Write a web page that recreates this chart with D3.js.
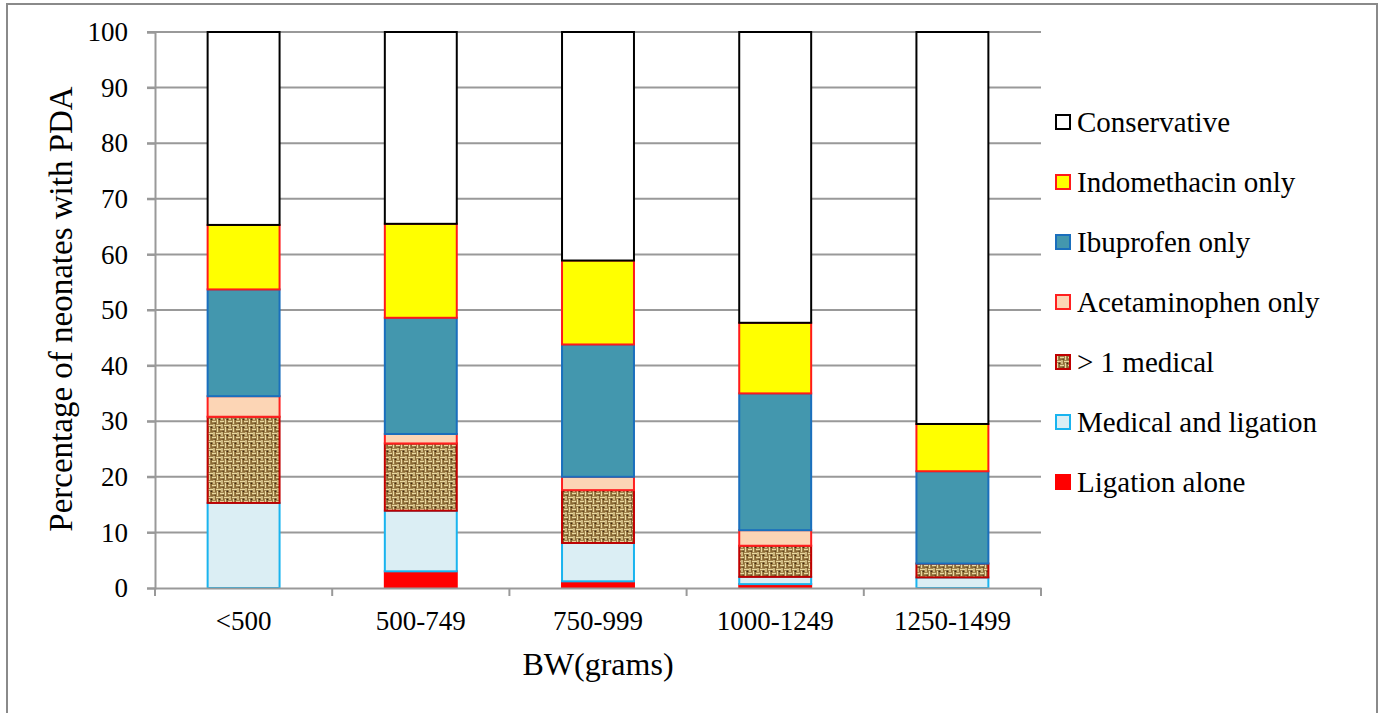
<!DOCTYPE html>
<html>
<head>
<meta charset="utf-8">
<script src="https://cdn.jsdelivr.net/npm/d3@7"></script>
<style>
html,body{margin:0;padding:0;background:#fff;}
svg{display:block;}
text{font-family:"Liberation Serif","Times New Roman",serif;fill:#000;}
</style>
</head>
<body>
<svg id="chart" width="1380" height="713"></svg>
<script>
const categories = ["<500", "500-749", "750-999", "1000-1249", "1250-1499"];
const seriesNames = ["Ligation alone", "Medical and ligation", "> 1 medical", "Acetaminophen only", "Ibuprofen only", "Indomethacin only", "Conservative"];
const ligationAlone      = [0,    3.0,  1.2,  0.7,  0];
const medicalLigation    = [15.3, 10.9, 6.9,  1.3,  1.9];
const moreThanOneMedical = [15.5, 12.1, 9.5,  5.6,  2.5];
const acetaminophenOnly  = [3.7,  1.7,  2.4,  2.8,  0];
const ibuprofenOnly      = [19.2, 20.9, 23.8, 24.6, 16.6];
const indomethacinOnly   = [11.6, 16.9, 15.1, 12.7, 8.5];
const conservative       = [34.7, 34.5, 41.1, 52.3, 70.5];
const yTicks = [0,10,20,30,40,50,60,70,80,90,100];
const xTitle = "BW(grams)";
const yTitle = "Percentage of neonates with PDA";

(function(){
const seriesValues = [ligationAlone, medicalLigation, moreThanOneMedical, acetaminophenOnly, ibuprofenOnly, indomethacinOnly, conservative];
const fills = ["#ff0000", "#dbeef4", "url(#burlap)", "#fcd5b5", "#4397ae", "#ffff00", "#ffffff"];
const strokes = ["#ff0000", "#19b4ef", "#c00000", "#ff2020", "#1a6fbd", "#ff1a1a", "#000000"];

const svg = d3.select("#chart");
const defs = svg.append("defs");
const pat = defs.append("pattern").attr("id","burlap").attr("patternUnits","userSpaceOnUse")
  .attr("width",8).attr("height",8);
pat.append("rect").attr("width",8).attr("height",8).attr("fill","#8a6934");
pat.append("path").attr("d","M0,1.5H5 M4,5.5H8 M1.5,3V8 M6,0V4").attr("stroke","#ead9a0").attr("stroke-width",1.4).attr("fill","none");
pat.append("rect").attr("x",2.6).attr("y",2.6).attr("width",1.4).attr("height",1.4).attr("fill","#3f2a12");
pat.append("rect").attr("x",6.6).attr("y",6.6).attr("width",1.2).attr("height",1.2).attr("fill","#4e3516");

// outer frame
svg.append("rect").attr("x",7).attr("y",4).attr("width",1370).attr("height",760)
  .attr("fill","none").attr("stroke","#8a8a8a").attr("stroke-width",2);

const pLeft = 155, pRight = 1041, pTop = 32, pBottom = 588;
const x = d3.scaleBand().domain(categories).range([pLeft, pRight]).paddingInner(0.594).paddingOuter(0.297);
const band = d3.scaleBand().domain(categories).range([pLeft, pRight]);
const y = d3.scaleLinear().domain([0,100]).range([pBottom, pTop]);

// gridlines
svg.append("g").selectAll("line").data(yTicks.filter(d=>d>0)).join("line")
  .attr("x1", pLeft-8).attr("x2", pRight).attr("y1", d=>y(d)).attr("y2", d=>y(d))
  .attr("stroke","#999").attr("stroke-width",2);

// y axis
const yAxis = svg.append("g").attr("transform",`translate(${pLeft},0)`)
  .call(d3.axisLeft(y).tickValues(yTicks).tickSize(8).tickPadding(19));
yAxis.select(".domain").attr("stroke","#999").attr("stroke-width",2);
yAxis.selectAll(".tick line").attr("stroke","#999").attr("stroke-width",2);
yAxis.selectAll("text").attr("font-size",27).attr("font-family","Liberation Serif").attr("fill","#000");

// stacked bars
const stackData = categories.map((c,i)=>{ const o={cat:c}; seriesNames.forEach((s,j)=>o[s]=seriesValues[j][i]); return o; });
const stack = d3.stack().keys(seriesNames)(stackData);
stack.forEach((layer, j) => {
  svg.append("g").selectAll("rect").data(layer.filter(d=>d[1]-d[0]>0)).join("rect")
    .attr("x", d=>x(d.data.cat)).attr("width", x.bandwidth())
    .attr("y", d=>y(d[1])).attr("height", d=>y(d[0])-y(d[1]))
    .attr("fill", fills[j]).attr("stroke", strokes[j]).attr("stroke-width", 2);
});

// x axis
const xAxis = svg.append("g").attr("transform",`translate(0,${pBottom})`)
  .call(d3.axisBottom(band).tickValues([]).tickSizeOuter(0));
xAxis.select(".domain").attr("stroke","#999").attr("stroke-width",2);
const bounds = [pLeft].concat(categories.map(c=>band(c)+band.bandwidth()));
svg.append("g").selectAll("line").data(bounds).join("line")
  .attr("x1",d=>d).attr("x2",d=>d).attr("y1",pBottom).attr("y2",pBottom+8)
  .attr("stroke","#999").attr("stroke-width",2);
svg.append("g").selectAll("text").data(categories).join("text")
  .attr("x", d=>band(d)+band.bandwidth()/2).attr("y", 630)
  .attr("text-anchor","middle").attr("font-size",27).text(d=>d);

// axis titles
svg.append("text").attr("x",(pLeft+pRight)/2).attr("y",675).attr("text-anchor","middle")
  .attr("font-size",32).text(xTitle);
svg.append("text").attr("transform",`translate(72,${(pTop+pBottom)/2 - 1}) rotate(-90)`)
  .attr("text-anchor","middle").attr("font-size",33).text(yTitle);

// legend (top = Conservative)
const legendOrder = seriesNames.map((s,j)=>j).reverse();
const lg = svg.append("g");
legendOrder.forEach((j,k)=>{
  const by = 132 + k*60;
  lg.append("rect").attr("x",1056).attr("y",by-17).attr("width",14).attr("height",14)
    .attr("fill",fills[j]).attr("stroke",strokes[j]).attr("stroke-width",2);
  lg.append("text").attr("x",1077).attr("y",by).attr("font-size",29).text(seriesNames[j]);
});
})();
</script>
</body>
</html>
